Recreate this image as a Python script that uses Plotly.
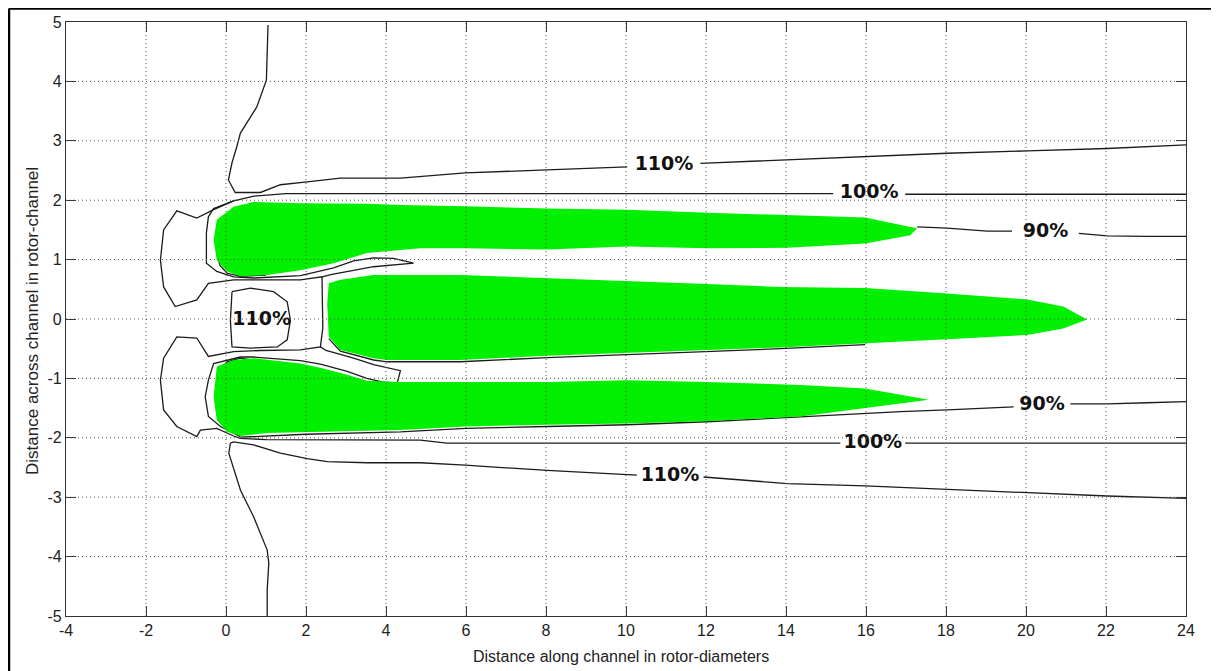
import plotly.graph_objects as go

# ---------------- data ----------------
x_ticks = [-4, -2, 0, 2, 4, 6, 8, 10, 12, 14, 16, 18, 20, 22, 24]
y_ticks = [-5, -4, -3, -2, -1, 0, 1, 2, 3, 4, 5]

# green regions (< 90 %)
green_upper_x = [-0.31, -0.23, 0.19, 0.69, 1.86, 3.52, 4.36, 5.98, 8.03, 10.03, 12.03, 14.03, 15.98, 17.11, 17.28,
                 17.11, 15.98, 14.03, 12.03, 10.03, 8.03, 5.98, 4.86, 3.52, 2.69, 1.86, 1.03, 0.36, 0.03, -0.23, -0.31]
green_upper_y = [1.33, 1.67, 1.89, 1.97, 1.95, 1.94, 1.92, 1.90, 1.86, 1.84, 1.79, 1.75, 1.71, 1.55, 1.53,
                 1.41, 1.27, 1.20, 1.19, 1.22, 1.17, 1.19, 1.19, 1.11, 0.94, 0.82, 0.74, 0.72, 0.80, 0.99, 1.33]

green_center_x = [2.53, 2.57, 2.86, 3.69, 5.86, 8.03, 10.03, 12.03, 13.86, 15.98, 18.03, 20.03, 20.93, 21.53,
                  20.93, 20.03, 18.03, 15.98, 13.86, 12.03, 10.03, 8.03, 5.86, 4.03, 3.69, 2.86, 2.57, 2.53]
green_center_y = [0.26, 0.60, 0.66, 0.74, 0.74, 0.69, 0.64, 0.59, 0.54, 0.52, 0.43, 0.33, 0.21, -0.01,
                  -0.16, -0.27, -0.34, -0.41, -0.48, -0.52, -0.57, -0.62, -0.69, -0.69, -0.66, -0.52, -0.30, 0.26]

green_lower_x = [-0.31, -0.27, -0.23, 0.19, 0.69, 1.86, 2.36, 3.03, 3.52, 4.36, 8.03, 10.03, 12.03, 14.36, 15.98, 17.57,
                 15.98, 14.36, 12.03, 10.03, 8.03, 5.98, 4.36, 2.69, 1.03, 0.36, 0.03, -0.23, -0.31]
green_lower_y = [-1.31, -1.03, -0.80, -0.69, -0.66, -0.75, -0.82, -0.94, -1.04, -1.06, -1.06, -1.03, -1.06, -1.11, -1.17, -1.36,
                 -1.50, -1.64, -1.72, -1.76, -1.78, -1.81, -1.87, -1.90, -1.92, -1.97, -1.90, -1.70, -1.31]

# 110 % contours
c110_top_x = [1.05, 1.01, 0.77, 0.36, 0.27, 0.15, 0.06, 0.23, 0.86, 1.36, 2.03, 2.86, 4.36, 5.98, 8.03, 10.03, None,
              11.86, 14.03, 15.98, 18.03, 20.03, 22.03, 24.0]
c110_top_y = [4.95, 4.02, 3.57, 3.13, 2.90, 2.63, 2.34, 2.13, 2.13, 2.26, 2.31, 2.37, 2.37, 2.46, 2.51, 2.56, None,
              2.62, 2.68, 2.73, 2.79, 2.83, 2.87, 2.93]

c110_bot_x = [1.03, 1.03, 1.07, 1.03, 0.69, 0.36, 0.07, 0.11, 0.19, 0.69, 1.36, 2.03, 2.53, 3.53, 4.86, 5.98, 8.03, 10.27, None,
              11.94, 14.03, 15.98, 18.03, 20.03, 22.03, 24.0]
c110_bot_y = [-5.01, -4.56, -4.11, -3.89, -3.33, -2.88, -2.26, -2.09, -2.07, -2.12, -2.26, -2.35, -2.40, -2.42, -2.42, -2.46, -2.55, -2.63, None,
              -2.66, -2.77, -2.81, -2.87, -2.93, -2.98, -3.02]

c110_box_x = [0.15, 0.61, 1.19, 1.53, 1.61, 1.53, 1.28, 0.61, 0.15, 0.11, 0.15]
c110_box_y = [0.46, 0.52, 0.46, 0.29, -0.02, -0.35, -0.47, -0.49, -0.47, -0.02, 0.46]

# main 100 % contour (top line, round the left pockets, bottom line)
c100_x = [24.0, 20.0, 16.98, None, 15.18, 10.0, 6.0, 3.0, 1.5, 0.7, 0.19, -0.31, -0.73, -1.23, -1.56, -1.64, -1.56, -1.27,
          -0.73, -0.44, 0.19, 0.86, 1.86, 2.40, 2.42, 2.42, 2.36, 1.86, 0.86, 0.19, -0.44, -0.73, -1.23, -1.56, -1.64,
          -1.56, -1.23, -0.73, -0.64, -0.23, 0.19, 0.36, 1.0, 3.0, 4.86, 5.52, 10.0, 15.36, None, 16.98, 20.0, 24.0]
c100_y = [2.10, 2.10, 2.10, None, 2.11, 2.11, 2.12, 2.12, 2.11, 2.07, 1.99, 1.84, 1.70, 1.82, 1.50, 0.99, 0.54, 0.21,
          0.32, 0.60, 0.66, 0.66, 0.66, 0.71, 0.15, -0.15, -0.47, -0.52, -0.53, -0.55, -0.63, -0.32, -0.30, -0.66, -1.03,
          -1.53, -1.81, -1.98, -1.87, -1.84, -1.97, -2.01, -2.03, -2.04, -2.04, -2.09, -2.09, -2.09, None, -2.09, -2.09, -2.09]

# 100 % tongues hugging the outer rotors
hug_upper_x = [0.19, -0.31, -0.44, -0.49, -0.49, -0.23, 0.19, 0.69, 1.86, 2.69, 3.19, 3.69, 4.19, 4.69,
               3.69, 3.03, 2.65, 2.40]
hug_upper_y = [1.99, 1.86, 1.72, 1.45, 0.94, 0.80, 0.71, 0.69, 0.73, 0.86, 0.98, 1.03, 1.02, 0.94,
               0.88, 0.80, 0.75, 0.71]
hug_lower_x = [0.36, -0.14, -0.44, -0.52, -0.44, -0.31, 0.36, 0.69, 1.86, 2.36, 3.03, 3.52, 3.90, 4.28,
               4.36, 3.69, 3.19, 2.50, 2.36]
hug_lower_y = [-1.98, -1.81, -1.64, -1.31, -1.03, -0.75, -0.64, -0.64, -0.70, -0.76, -0.88, -1.00, -1.06, -1.08,
               -0.87, -0.77, -0.66, -0.53, -0.47]

# 90 % contours
c90_inner_up_x = [-0.25, -0.23, -0.15, 0.03, 0.36, 1.0]
c90_inner_up_y = [1.35, 1.10, 0.90, 0.77, 0.72, 0.74]
c90_inner_lo_x = [1.0, 0.36, 0.03, -0.15, -0.23, -0.25]
c90_inner_lo_y = [-0.73, -0.66, -0.72, -0.85, -1.05, -1.30]
c90_top_x = [17.28, 18.03, 19.03, 19.65, None, 21.32, 22.03, 23.03, 24.0]
c90_top_y = [1.55, 1.53, 1.48, 1.48, None, 1.44, 1.40, 1.39, 1.39]
c90_bot_x = [0.36, 2.0, 4.36, 6.0, 8.03, 10.03, 12.03, 14.03, 16.0, 16.86, 18.03, 19.03, 19.69, None,
             21.11, 22.03, 23.03, 24.0]
c90_bot_y = [-1.99, -1.94, -1.90, -1.84, -1.81, -1.78, -1.73, -1.66, -1.58, -1.56, -1.53, -1.50, -1.48, None,
             -1.43, -1.43, -1.41, -1.39]
c90_mid_x = [2.57, 2.86, 3.69, 4.03, 5.86, 8.03, 10.03, 12.03, 13.86, 15.98]
c90_mid_y = [-0.33, -0.54, -0.69, -0.72, -0.72, -0.65, -0.60, -0.55, -0.50, -0.43]

# contour labels
label_text = ["110%", "100%", "90%", "110%", "90%", "100%", "110%"]
label_x = [10.95, 16.08, 20.49, 0.89, 20.40, 16.17, 11.10]
label_y = [2.59, 2.11, 1.46, -0.02, -1.46, -2.09, -2.65]

# ---------------- figure ----------------
LINE = dict(color="#1c1c1c", width=1.3)
GREEN = "#00f000"

fig = go.Figure()

contours = [
    (c110_top_x, c110_top_y), (c110_bot_x, c110_bot_y), (c110_box_x, c110_box_y),
    (c100_x, c100_y), (hug_upper_x, hug_upper_y), (hug_lower_x, hug_lower_y),
    (c90_inner_up_x, c90_inner_up_y), (c90_inner_lo_x, c90_inner_lo_y),
    (c90_top_x, c90_top_y), (c90_bot_x, c90_bot_y), (c90_mid_x, c90_mid_y),
]
for cx, cy in contours:
    fig.add_trace(go.Scatter(x=cx, y=cy, mode="lines", line=LINE, hoverinfo="skip",
                             showlegend=False, connectgaps=False))

for gx, gy in [(green_upper_x, green_upper_y), (green_center_x, green_center_y),
               (green_lower_x, green_lower_y)]:
    fig.add_trace(go.Scatter(x=gx, y=gy, mode="lines", fill="toself", fillcolor=GREEN,
                             line=dict(width=0, color=GREEN), hoverinfo="skip", showlegend=False))

fig.add_trace(go.Scatter(x=label_x, y=label_y, mode="text", text=label_text,
                         textfont=dict(family="DejaVu Sans", size=19, color="#111", weight="bold"),
                         hoverinfo="skip", showlegend=False))

# dotted grid drawn above the fills (as in the original)
for v in x_ticks[1:-1]:
    fig.add_shape(type="line", x0=v, x1=v, y0=0, y1=1, xref="x", yref="paper",
                  line=dict(color="#555", width=1, dash="1px,3px"), layer="above")
for v in y_ticks[1:-1]:
    fig.add_shape(type="line", x0=0, x1=1, y0=v, y1=v, xref="paper", yref="y",
                  line=dict(color="#555", width=1, dash="1px,3px"), layer="above")

# outer frame (top and left edges of the image border)
fig.add_shape(type="line", x0=-0.0509, x1=1.2, y0=1.0228, y1=1.0228, xref="paper", yref="paper",
              line=dict(color="black", width=2.5))
fig.add_shape(type="line", x0=-0.0509, x1=-0.0509, y0=1.0228, y1=-0.2, xref="paper", yref="paper",
              line=dict(color="black", width=2.5))

axis_common = dict(showgrid=False, zeroline=False, showline=True, linecolor="#333", linewidth=1.3,
                   mirror="ticks", ticks="inside", ticklen=10, tickcolor="#333", tickwidth=1.3,
                   tickfont=dict(family="Liberation Sans, Arial", size=16, color="#222"),
                   layer="above traces", automargin=False)

# the page body keeps an 8 px margin, so the figure is 8 px smaller and shifted accordingly
fig.update_layout(
    width=1211, height=663,
    margin=dict(l=58, r=33, t=14, b=55),
    paper_bgcolor="white", plot_bgcolor="white",
    xaxis=dict(range=[-4, 24], tickvals=x_ticks, ticktext=[str(v) for v in x_ticks], **axis_common),
    yaxis=dict(range=[-5, 5], tickvals=y_ticks, ticktext=[str(v) for v in y_ticks], **axis_common),
    annotations=[
        dict(text="Distance along channel in rotor-diameters", xref="paper", yref="paper",
             x=0.4955, y=-0.069, xanchor="center", yanchor="middle", showarrow=False,
             font=dict(family="Liberation Sans, Arial", size=16, color="#222")),
        dict(text="Distance across channel in rotor-channel", xref="paper", yref="paper",
             x=-0.0304, y=0.4966, xanchor="center", yanchor="middle", showarrow=False, textangle=-90,
             font=dict(family="Liberation Sans, Arial", size=17, color="#222")),
    ],
)

fig.write_html("out.html")
